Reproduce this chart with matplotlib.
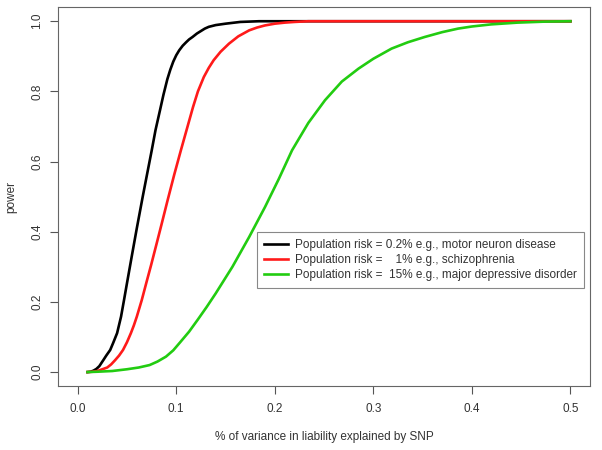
import matplotlib
matplotlib.use("Agg")
import matplotlib.pyplot as plt

plt.rcParams['font.family'] = ['Liberation Sans', 'DejaVu Sans']

# values
x_black = [0.01, 0.013, 0.016, 0.019, 0.022, 0.026, 0.029, 0.033, 0.036, 0.040,
           0.044, 0.047, 0.050, 0.055, 0.060, 0.066, 0.070, 0.075, 0.079, 0.0835,
           0.087, 0.091, 0.094, 0.097, 0.100, 0.103, 0.1065, 0.110, 0.113, 0.1165,
           0.121, 0.125, 0.129, 0.133, 0.140, 0.150, 0.165, 0.184, 0.25, 0.5]
p_black = [0.0, 0.001, 0.004, 0.009, 0.017, 0.034, 0.047, 0.063, 0.083, 0.111,
           0.158, 0.205, 0.253, 0.332, 0.41, 0.50, 0.558, 0.630, 0.69, 0.746,
           0.79, 0.835, 0.862, 0.885, 0.903, 0.917, 0.93, 0.94, 0.948, 0.955,
           0.965, 0.972, 0.979, 0.984, 0.989, 0.993, 0.998, 1.0, 1.0, 1.0]

x_red = [0.01, 0.015, 0.02, 0.025, 0.03, 0.034, 0.038, 0.042, 0.046, 0.050,
         0.054, 0.057, 0.060, 0.065, 0.070, 0.0745, 0.080, 0.085, 0.091, 0.098,
         0.1047, 0.111, 0.117, 0.122, 0.128, 0.133, 0.138, 0.145, 0.1535, 0.163,
         0.174, 0.182, 0.19, 0.20, 0.21, 0.22, 0.234, 0.5]
p_red = [0.0, 0.001, 0.003, 0.008, 0.013, 0.022, 0.034, 0.047, 0.063, 0.085,
         0.111, 0.133, 0.158, 0.205, 0.258, 0.305, 0.365, 0.42, 0.487, 0.563,
         0.632, 0.695, 0.755, 0.80, 0.841, 0.867, 0.889, 0.913, 0.936, 0.957,
         0.974, 0.982, 0.988, 0.993, 0.996, 0.998, 1.0, 1.0]

x_green = [0.01, 0.02, 0.035, 0.05, 0.062, 0.073, 0.081, 0.0896, 0.097, 0.104,
           0.113, 0.122, 0.131, 0.140, 0.157, 0.174, 0.19, 0.204, 0.2175, 0.234,
           0.251, 0.268, 0.285, 0.30, 0.3185, 0.335, 0.352, 0.37, 0.386, 0.40,
           0.4195, 0.446, 0.475, 0.5]
p_green = [0.0, 0.001, 0.003, 0.008, 0.013, 0.02, 0.03, 0.044, 0.062, 0.085,
           0.115, 0.15, 0.186, 0.224, 0.30, 0.385, 0.47, 0.55, 0.632, 0.71,
           0.775, 0.828, 0.865, 0.893, 0.922, 0.94, 0.955, 0.969, 0.979, 0.985,
           0.991, 0.996, 0.999, 1.0]

labels = ['Population risk = 0.2% e.g., motor neuron disease',
          'Population risk =    1% e.g., schizophrenia',
          'Population risk =  15% e.g., major depressive disorder']

x_ticks = [0.0, 0.1, 0.2, 0.3, 0.4, 0.5]
y_ticks = [0.0, 0.2, 0.4, 0.6, 0.8, 1.0]

fig = plt.figure(figsize=(6.02, 4.5), dpi=100)
ax = fig.add_axes([0.0963, 0.142, 0.884, 0.842])

ax.plot(x_black, p_black, color='black', lw=1.9, label=labels[0])
ax.plot(x_red, p_red, color='#ff1a1a', lw=1.9, label=labels[1])
ax.plot(x_green, p_green, color='#22cc11', lw=1.9, label=labels[2])

ax.set_xlim(-0.02, 0.52)
ax.set_ylim(-0.04, 1.04)
ax.set_xticks(x_ticks)
ax.set_xticklabels(['%.1f' % v for v in x_ticks])
ax.set_yticks(y_ticks)
ax.set_yticklabels(['%.1f' % v for v in y_ticks], rotation=90, va='center')
ax.tick_params(direction='out', length=6, width=0.8, colors='#555555',
               labelcolor='#333333', labelsize=8.5)
ax.tick_params(axis='x', pad=6.5)
ax.tick_params(axis='y', pad=4.5)
for s in ax.spines.values():
    s.set_color('#666666')
    s.set_linewidth(0.8)

ax.set_xlabel('% of variance in liability explained by SNP', fontsize=8.5,
              color='#333333', labelpad=11)
ax.set_ylabel('power', fontsize=8.5, color='#333333', labelpad=10)

leg = ax.legend(loc='upper left', bbox_to_anchor=(257 / 602, 1 - 232 / 450),
                bbox_transform=fig.transFigure, borderaxespad=0, fontsize=8.5,
                fancybox=False, edgecolor='#888888', framealpha=1,
                handlelength=2.0, handletextpad=0.6, labelspacing=0.25,
                borderpad=0.6)
leg.get_frame().set_linewidth(0.8)
for t in leg.get_texts():
    t.set_color('#333333')

fig.savefig('out.png', dpi=100)
